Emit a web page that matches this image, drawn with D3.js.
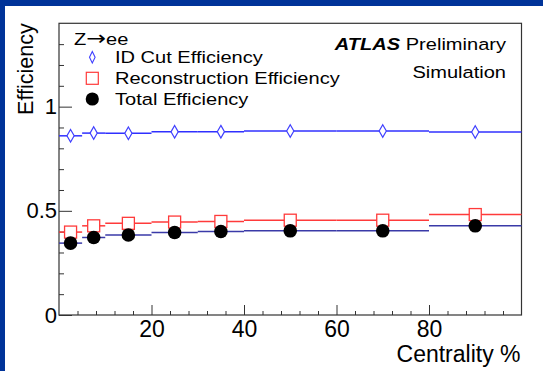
<!DOCTYPE html>
<html>
<head>
<meta charset="utf-8">
<script src="https://cdn.jsdelivr.net/npm/d3@7"></script>
<style>
  body { margin: 0; background: #fff; }
  text { font-family: "Liberation Sans", Arial, sans-serif; }
</style>
</head>
<body>
<script>
// Bins in centrality % and the three efficiency series
var binLo = [0, 5, 10, 20, 30, 40, 60, 80];
var binHi = [5, 10, 20, 30, 40, 60, 80, 100];
var centrality = [2.5, 7.5, 15, 25, 35, 50, 70, 90];
var idCutEff = [0.860, 0.873, 0.872, 0.879, 0.880, 0.883, 0.883, 0.878];
var recoEff = [0.398, 0.428, 0.440, 0.446, 0.449, 0.455, 0.455, 0.482];
var totalEff = [0.345, 0.372, 0.384, 0.396, 0.401, 0.404, 0.404, 0.428];
var xTicks = [20, 40, 60, 80];
var xMinor = [4, 8, 12, 16, 24, 28, 32, 36, 44, 48, 52, 56, 64, 68, 72, 76, 84, 88, 92, 96];
var yTicks = [0, 0.5, 1];
var yMinor = [0.1, 0.2, 0.3, 0.4, 0.6, 0.7, 0.8, 0.9, 1.1, 1.2, 1.3];
var legendLabels = ["ID Cut Efficiency", "Reconstruction Efficiency", "Total Efficiency"];

function drawChart () {
    var W = 543, H = 371;
    var svg = d3.select("body").append("svg")
        .attr("width", W)
        .attr("height", H);

    // page background with the blue border on the left and top
    svg.append("rect").attr("width", W).attr("height", H).attr("fill", "#003399");
    svg.append("rect").attr("x", 5).attr("y", 6).attr("width", W - 5).attr("height", H - 6).attr("fill", "#fff");

    var pLeft = 59, pRight = 521.5, pTop = 23.3, pBottom = 315;
    var x = d3.scaleLinear().domain([0, 100]).range([pLeft, pRight]);
    var y = d3.scaleLinear().domain([0, 1.4]).range([pBottom, pTop]);

    ////////////////////////////
    // Axes, ticks point inward
    var gx = svg.append("g").attr("transform", "translate(0," + pBottom + ")")
        .call(d3.axisBottom(x).tickValues(xTicks).tickSizeInner(-10).tickSizeOuter(0).tickPadding(6));
    svg.append("g").attr("transform", "translate(0," + pBottom + ")")
        .call(d3.axisBottom(x).tickValues(xMinor).tickFormat("").tickSizeInner(-4).tickSizeOuter(0));
    var gy = svg.append("g").attr("transform", "translate(" + pLeft + ",0)")
        .call(d3.axisLeft(y).tickValues(yTicks).tickFormat(d3.format("")).tickSizeInner(-13).tickSizeOuter(0).tickPadding(2));
    svg.append("g").attr("transform", "translate(" + pLeft + ",0)")
        .call(d3.axisLeft(y).tickValues(yMinor).tickFormat("").tickSizeInner(-5).tickSizeOuter(0));

    svg.selectAll(".domain").remove();
    svg.selectAll(".tick line").attr("stroke", "#333");
    svg.selectAll(".tick text")
        .attr("fill", "#000")
        .style("font-family", "'Liberation Sans', Arial, sans-serif");
    gx.selectAll(".tick text").attr("font-size", "23px");
    gy.selectAll(".tick text").attr("font-size", "22px");

    // frame
    svg.append("rect")
        .attr("x", pLeft).attr("y", pTop)
        .attr("width", pRight - pLeft).attr("height", pBottom - pTop)
        .attr("fill", "none").attr("stroke", "#333").attr("stroke-width", 1.2);

    // axis titles
    svg.append("text")
        .attr("transform", "translate(33," + pTop + ") rotate(-90)")
        .attr("text-anchor", "end")
        .attr("font-size", "21.5px")
        .text("Efficiency");
    svg.append("text")
        .attr("x", pRight - 1).attr("y", 362)
        .attr("text-anchor", "end")
        .attr("font-size", "23px")
        .text("Centrality %");

    ////////////////////////////
    // Series: horizontal bin lines + markers
    function diamond(cx, cy, w, h) {
        return "M" + cx + "," + (cy - h) + "L" + (cx + w) + "," + cy +
               "L" + cx + "," + (cy + h) + "L" + (cx - w) + "," + cy + "Z";
    }

    var series = [
        { vals: idCutEff, line: "#3030ff", marker: "diamond", stroke: "#4040ff" },
        { vals: recoEff, line: "#ff3a3a", marker: "square", stroke: "#ff3a3a" },
        { vals: totalEff, line: "#3a3aa8", marker: "circle", stroke: "#000" }
    ];

    series.forEach(function (s) {
        var g = svg.append("g");
        g.selectAll("line")
            .data(s.vals)
            .enter()
            .append("line")
                .attr("x1", function (d, i) { return x(binLo[i]); })
                .attr("x2", function (d, i) { return x(binHi[i]); })
                .attr("y1", function (d) { return y(d); })
                .attr("y2", function (d) { return y(d); })
                .attr("stroke", s.line)
                .attr("stroke-width", 1.5);

        if (s.marker === "diamond") {
            g.selectAll("path")
                .data(s.vals)
                .enter()
                .append("path")
                    .attr("d", function (d, i) { return diamond(x(centrality[i]), y(d), 3.6, 6.3); })
                    .attr("fill", "#fff")
                    .attr("stroke", s.stroke)
                    .attr("stroke-width", 1.2);
        } else if (s.marker === "square") {
            g.selectAll("rect")
                .data(s.vals)
                .enter()
                .append("rect")
                    .attr("x", function (d, i) { return x(centrality[i]) - 6; })
                    .attr("y", function (d) { return y(d) - 6; })
                    .attr("width", 12).attr("height", 12)
                    .attr("fill", "#fff")
                    .attr("stroke", s.stroke)
                    .attr("stroke-width", 1.3);
        } else {
            g.selectAll("circle")
                .data(s.vals)
                .enter()
                .append("circle")
                    .attr("cx", function (d, i) { return x(centrality[i]); })
                    .attr("cy", function (d) { return y(d); })
                    .attr("r", 6.8)
                    .attr("fill", "#000");
        }
    });

    ////////////////////////////
    // Legend (the text in the picture is a bit wider than Liberation Sans)
    var stretch = 1.18;
    function wideText(tx, ty, anchor) {
        return svg.append("g")
            .attr("transform", "translate(" + tx + "," + ty + ") scale(" + stretch + ",1)")
            .append("text")
                .attr("text-anchor", anchor)
                .attr("font-size", "17px");
    }

    var zee = wideText(74, 45, "start");
    zee.append("tspan").text("Z");
    zee.append("tspan").attr("font-size", "20px").style("font-family", "'DejaVu Sans', sans-serif").text("\u2192");
    zee.append("tspan").text("ee");

    var legY = [57.3, 78.3, 99];
    svg.append("path")
        .attr("d", diamond(92.3, legY[0], 2.8, 5.8))
        .attr("fill", "#fff").attr("stroke", "#4040ff").attr("stroke-width", 1.1);
    svg.append("rect")
        .attr("x", 92.3 - 6).attr("y", legY[1] - 6).attr("width", 12).attr("height", 12)
        .attr("fill", "#fff").attr("stroke", "#ff3a3a").attr("stroke-width", 1.2);
    svg.append("circle")
        .attr("cx", 92.3).attr("cy", legY[2]).attr("r", 6.6).attr("fill", "#000");

    legendLabels.forEach(function (d, i) {
        wideText(115, legY[i] + 6, "start").text(d);
    });

    // ATLAS label
    var atlas = wideText(506, 50, "end");
    atlas.append("tspan").attr("font-weight", "bold").attr("font-style", "italic").text("ATLAS");
    atlas.append("tspan").text(" Preliminary");
    wideText(506, 78.3, "end").text("Simulation");
}

drawChart();
</script>
</body>
</html>
